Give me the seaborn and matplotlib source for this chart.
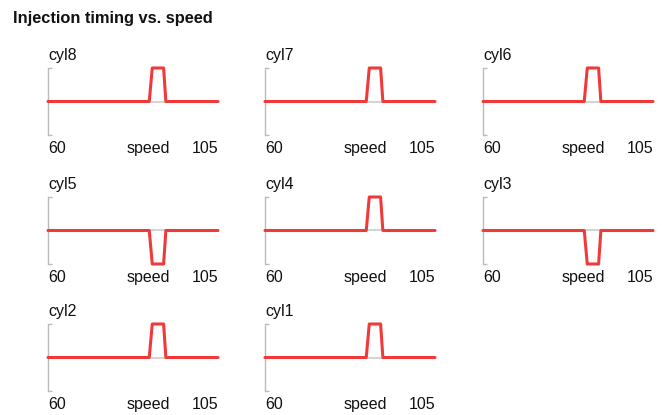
import matplotlib
matplotlib.use("Agg")
import matplotlib.pyplot as plt
import seaborn as sns
import pandas as pd

# ---- data ----
cylinders = ["cyl8", "cyl7", "cyl6", "cyl5", "cyl4", "cyl3", "cyl2", "cyl1"]
speed = [60, 86.8, 87.6, 90.6, 91.2, 105]
pulse_sign = [1, 1, 1, -1, 1, -1, 1, 1]
pulse_shape = [0, 0, 1, 1, 0, 0]
x_ticks = [60, 105]
x_tick_labels = ["60", "105"]

sns.set_theme(style="white")
plt.rcParams["font.family"] = ["Liberation Sans", "DejaVu Sans"]
plt.rcParams["text.color"] = "#111111"
plt.rcParams["xtick.color"] = "#111111"
plt.rcParams["axes.labelcolor"] = "#111111"

fig = plt.figure(figsize=(6.64, 4.15), dpi=100)
W, H = 664, 415
col_left = [48, 265, 483]
row_top = [68, 197, 324]
pw, ph = 170, 67

red = "#f03a3a"
for i, (name, sgn) in enumerate(zip(cylinders, pulse_sign)):
    r, c = divmod(i, 3)
    ax = fig.add_axes([col_left[c] / W, 1 - (row_top[r] + ph) / H, pw / W, ph / H])
    df = pd.DataFrame({"speed": speed, "timing": [sgn * v for v in pulse_shape]})
    ax.axhline(0, color="#cccccc", lw=1.2, zorder=1)
    sns.lineplot(data=df, x="speed", y="timing", ax=ax, color=red, lw=2.2,
                 zorder=3, clip_on=False)
    ax.set_xlim(60, 105)
    ax.set_ylim(-1, 1)
    for s in ["top", "right", "bottom"]:
        ax.spines[s].set_visible(False)
    ax.spines["left"].set_color("#bbbbbb")
    ax.spines["left"].set_linewidth(1.0)
    ax.set_yticks([-1, 1])
    ax.set_yticklabels([])
    ax.tick_params(axis="y", direction="in", length=3, width=1.0, color="#bbbbbb", left=True)
    ax.set_xticks(x_ticks)
    ax.set_xticklabels(x_tick_labels, fontsize=11.5)
    ax.tick_params(axis="x", length=0, pad=4, labelcolor="#111111")
    tl = ax.get_xticklabels()
    tl[0].set_ha("left")
    tl[1].set_ha("right")
    ax.set_ylabel("")
    ax.set_xlabel("speed", fontsize=11.5, va="top", color="#111111")
    ax.xaxis.set_label_coords(0.59, -0.09)
    ax.set_title(name, loc="left", fontsize=11.5, pad=6, color="#111111")

fig.text(13 / W, 1 - 18 / H, "Injection timing vs. speed", fontsize=11.8,
         fontweight="bold", ha="left", va="center", color="#111111")

fig.savefig("out.png", dpi=100)
